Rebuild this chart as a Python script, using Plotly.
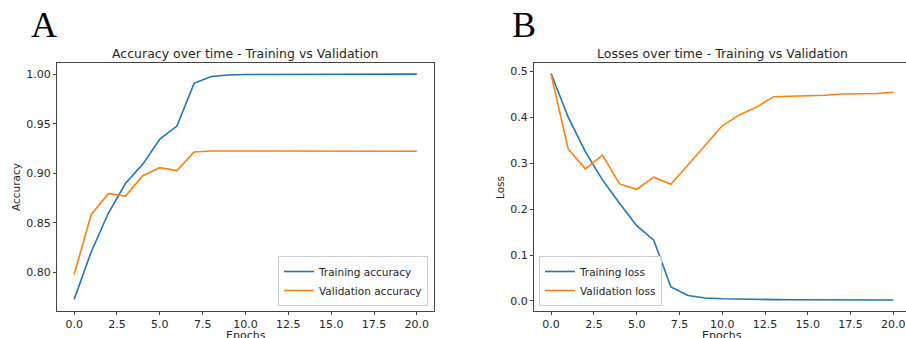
import plotly.graph_objects as go

W, H = 906, 338

epochs = list(range(21))
train_acc = [0.773, 0.821, 0.860, 0.890, 0.909, 0.9345, 0.9476, 0.9906, 0.9975, 0.999, 0.9995,
             0.9996, 0.9998, 0.9998, 0.9998, 0.9999, 0.9998, 0.9999, 0.9999, 0.9999, 0.9999]
val_acc = [0.798, 0.8587, 0.8795, 0.877, 0.8976, 0.9057, 0.9027, 0.9215, 0.9225, 0.9225, 0.9225,
           0.9225, 0.9228, 0.9222, 0.9224, 0.9224, 0.9224, 0.9224, 0.9222, 0.9222, 0.9222]
train_loss = [0.495, 0.400, 0.325, 0.2635, 0.2127, 0.1638, 0.1325, 0.0306, 0.0118, 0.0066, 0.005,
              0.004, 0.0033, 0.003, 0.0028, 0.0026, 0.0025, 0.0024, 0.0023, 0.0022, 0.0021]
val_loss = [0.493, 0.331, 0.2876, 0.3175, 0.2548, 0.2432, 0.2694, 0.254, 0.296, 0.338, 0.3814,
            0.405, 0.422, 0.4447, 0.4458, 0.4476, 0.4478, 0.4506, 0.451, 0.4515, 0.4542]

x_ticks = [0, 2.5, 5, 7.5, 10, 12.5, 15, 17.5, 20]
acc_ticks = [0.80, 0.85, 0.90, 0.95, 1.00]
loss_ticks = [0.0, 0.1, 0.2, 0.3, 0.4, 0.5]

BLUE = "#1f77b4"
ORANGE = "#ff7f0e"
FONT = "DejaVu Sans"
TXT = "#262626"

def px(x):
    return x / W

def py(y):
    return 1 - y / H

fig = go.Figure()
fig.add_trace(go.Scatter(x=epochs, y=train_acc, mode="lines", name="Training accuracy",
                         line=dict(color=BLUE, width=1.6), xaxis="x", yaxis="y", legend="legend"))
fig.add_trace(go.Scatter(x=epochs, y=val_acc, mode="lines", name="Validation accuracy",
                         line=dict(color=ORANGE, width=1.6), xaxis="x", yaxis="y", legend="legend"))
fig.add_trace(go.Scatter(x=epochs, y=train_loss, mode="lines", name="Training loss",
                         line=dict(color=BLUE, width=1.6), xaxis="x2", yaxis="y2", legend="legend2"))
fig.add_trace(go.Scatter(x=epochs, y=val_loss, mode="lines", name="Validation loss",
                         line=dict(color=ORANGE, width=1.6), xaxis="x2", yaxis="y2", legend="legend2"))

axis_common = dict(showgrid=False, zeroline=False, showline=True, linecolor="#444", linewidth=1,
                   ticks="outside", ticklen=3, tickcolor="#444", tickwidth=1,
                   tickfont=dict(family=FONT, size=11, color=TXT))

ydom = [py(311), py(63)]
legend_common = dict(bgcolor="rgba(255,255,255,0.8)", bordercolor="#cccccc", borderwidth=1,
                     font=dict(family=FONT, size=10.5, color=TXT), tracegroupgap=0,
                     itemwidth=30)
fig.update_layout(
    width=W, height=H, margin=dict(l=0, r=0, t=0, b=0),
    paper_bgcolor="white", plot_bgcolor="white",
    font=dict(family=FONT, color=TXT),
    xaxis=dict(domain=[px(57), px(434)], range=[-1, 21], tickvals=x_ticks, tickformat=".1f",
               mirror=True, anchor="y", **axis_common),
    yaxis=dict(domain=ydom, range=[0.7613, 1.0111], tickvals=acc_ticks, tickformat=".2f",
               mirror=True, anchor="x", **axis_common),
    xaxis2=dict(domain=[px(534), 1.0], range=[-1, 20.74], tickvals=x_ticks, tickformat=".1f",
                mirror=True, anchor="y2", **axis_common),
    yaxis2=dict(domain=ydom, range=[-0.0218, 0.518], tickvals=loss_ticks, tickformat=".1f",
                mirror=False, anchor="x2", **axis_common),
    legend=dict(x=px(428), y=py(306), xanchor="right", yanchor="bottom", **legend_common),
    legend2=dict(x=px(539), y=py(306), xanchor="left", yanchor="bottom", **legend_common),
    showlegend=True,
)

annotations = [
    dict(text="A", x=px(44), y=py(25), font=dict(family="Liberation Serif", size=36, color="black")),
    dict(text="B", x=px(524), y=py(25), font=dict(family="Liberation Serif", size=36, color="black")),
    dict(text="Accuracy over time - Training vs Validation", x=px(245.5), y=py(53),
         font=dict(family=FONT, size=12.5, color=TXT)),
    dict(text="Losses over time - Training vs Validation", x=px(722), y=py(53),
         font=dict(family=FONT, size=12.5, color=TXT)),
    dict(text="Accuracy", x=px(16), y=py(187), textangle=-90, font=dict(family=FONT, size=10.5, color=TXT)),
    dict(text="Loss", x=px(500), y=py(188), textangle=-90, font=dict(family=FONT, size=10.5, color=TXT)),
    dict(text="Epochs", x=px(245.5), y=py(335), font=dict(family=FONT, size=11, color=TXT)),
    dict(text="Epochs", x=px(722), y=py(335), font=dict(family=FONT, size=11, color=TXT)),
]
for a in annotations:
    a.update(xref="paper", yref="paper", showarrow=False, xanchor="center", yanchor="middle")
fig.update_layout(annotations=annotations)

fig.write_html("out.html", config={"displayModeBar": False},
               post_script="document.body.style.margin='0';document.body.style.overflow='hidden';")
